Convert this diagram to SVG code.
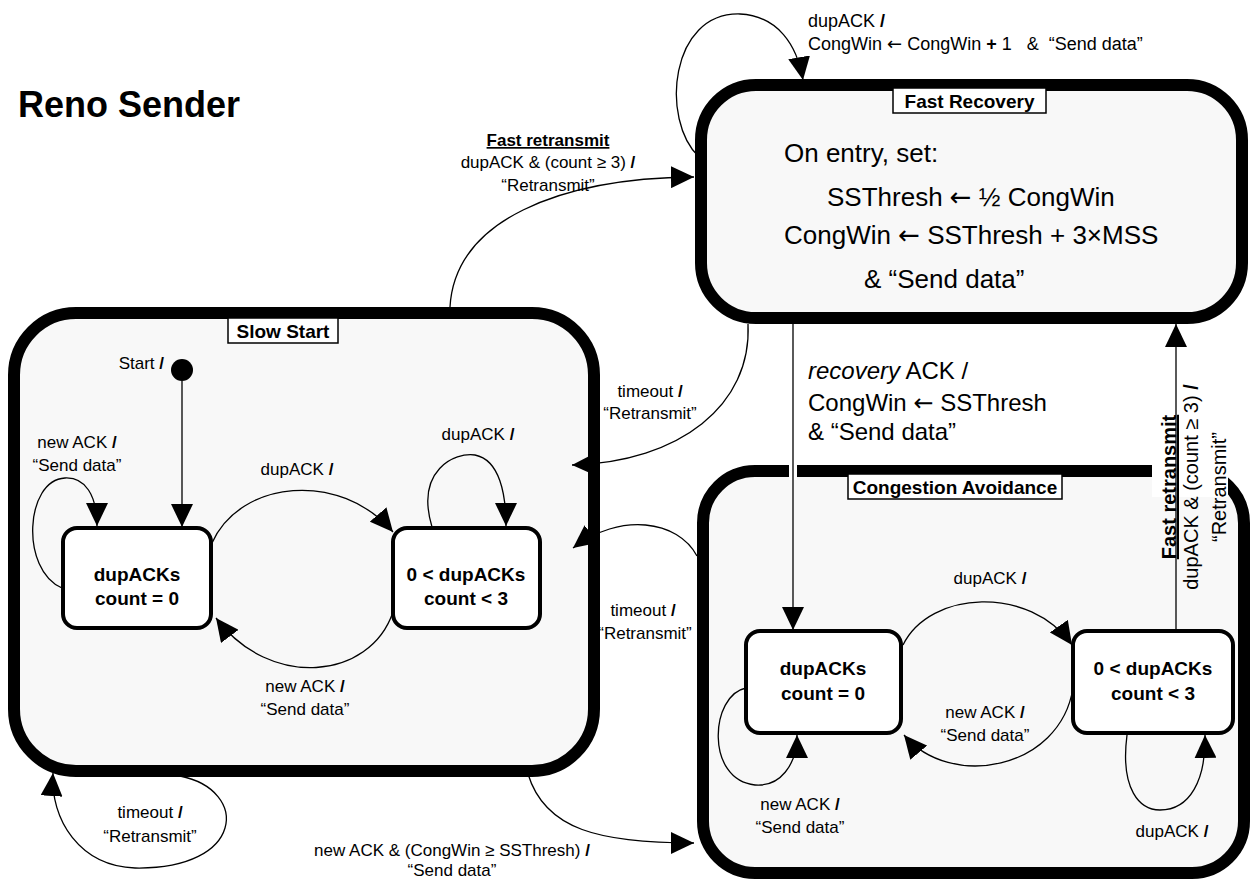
<svg xmlns="http://www.w3.org/2000/svg" width="1250" height="880" viewBox="0 0 1250 880">
<defs>
<marker id="ah" markerUnits="userSpaceOnUse" markerWidth="24" markerHeight="22" refX="23" refY="11" orient="auto">
<path d="M0,0 L23,11 L0,22 z" fill="#000"/>
</marker>
<style>
text{font-family:"Liberation Sans",Arial,sans-serif;fill:#000}
.t{font-size:17px}
.c{fill:#f8f8f8;stroke:#000;stroke-width:12}
.s{fill:#fff;stroke:#000;stroke-width:4}
.lb{fill:#fff;stroke:#000;stroke-width:1.5}
.h{font-size:19px;font-weight:bold}
.st{font-size:19px;font-weight:bold}
.b{font-weight:bold}
.ar{font-family:"DejaVu Sans",sans-serif}
.big{font-size:26px}
.rec{font-size:24px}
.conn path,.conn line{fill:none;stroke:#000;stroke-width:1.3;marker-end:url(#ah)}
</style>
</defs>
<rect width="1250" height="880" fill="#fff"/>
<text x="18" y="117" style="font-size:36px;font-weight:bold">Reno Sender</text>

<g id="fast-recovery">
<rect class="c" x="701" y="85" width="541" height="233" rx="55"/>
<rect class="lb" x="893" y="88" width="153" height="25"/>
<text class="h" x="969.5" y="108" text-anchor="middle">Fast Recovery</text>
<text class="big" x="784" y="162">On entry, set:</text>
<text class="big" x="827" y="206">SSThresh <tspan class="ar">←</tspan> ½ CongWin</text>
<text class="big" x="784" y="244">CongWin <tspan class="ar">←</tspan> SSThresh + 3×MSS</text>
<text class="big" x="864" y="288">&amp; “Send data”</text>
</g>

<g id="slow-start">
<rect class="c" x="14" y="313" width="580" height="458" rx="62"/>
<rect class="lb" x="228" y="318" width="110" height="25"/>
<text class="h" x="283" y="338" text-anchor="middle">Slow Start</text>
<circle cx="182" cy="370" r="11" fill="#000"/>
<text class="t" x="164" y="369" text-anchor="end">Start <tspan class="b">/</tspan></text>
</g>

<g id="ss-zero">
<rect class="s" x="63" y="528" width="148" height="100" rx="14"/>
<text class="st" x="137" y="581" text-anchor="middle">dupACKs</text>
<text class="st" x="137" y="605" text-anchor="middle">count = 0</text>
</g>
<g id="ss-dup">
<rect class="s" x="393" y="528" width="147" height="100" rx="14"/>
<text class="st" x="466" y="581" text-anchor="middle">0 &lt; dupACKs</text>
<text class="st" x="466" y="605" text-anchor="middle">count &lt; 3</text>
</g>

<g id="congestion-avoidance">
<rect class="c" x="703" y="471" width="541" height="402" rx="52"/>
<rect x="1152" y="455" width="76" height="42" fill="#fff"/>
<rect x="789" y="462" width="8" height="18" fill="#fff"/>
<rect class="lb" x="848" y="474" width="214" height="25"/>
<text class="h" x="955" y="494" text-anchor="middle">Congestion Avoidance</text>
</g>
<g id="ca-zero">
<rect class="s" x="746" y="631" width="155" height="102" rx="14"/>
<text class="st" x="823" y="675" text-anchor="middle">dupACKs</text>
<text class="st" x="823" y="700" text-anchor="middle">count = 0</text>
</g>
<g id="ca-dup">
<rect class="s" x="1073" y="631" width="160" height="102" rx="14"/>
<text class="st" x="1153" y="675" text-anchor="middle">0 &lt; dupACKs</text>
<text class="st" x="1153" y="700" text-anchor="middle">count &lt; 3</text>
</g>

<g class="conn" id="connectors">
<path d="M 699 157 C 660 120, 670 12, 740 14 C 778 16, 797 45, 803 80"/>
<path d="M 450 307 C 455 220, 560 178, 694 177"/>
<path d="M 748 324 C 752 405, 680 462, 572 465"/>
<path d="M 697 556 C 678 520, 620 512, 573 548"/>
<path d="M 180 776 C 250 790, 245 870, 135 868 C 80 866, 50 820, 53 773"/>
<path d="M 528 774 C 545 830, 600 843, 694 843"/>
<line x1="793" y1="324" x2="793" y2="630"/>
<line x1="1176" y1="631" x2="1176" y2="324"/>
<line x1="182" y1="381" x2="182" y2="527"/>
<path d="M 62 588 C 20 570, 25 480, 65 478 C 85 477, 97 495, 97 526"/>
<path d="M 212 543 C 240 480, 340 470, 393 532"/>
<path d="M 432 527 C 415 470, 455 452, 475 455 C 500 460, 506 495, 506 526"/>
<path d="M 393 612 C 370 680, 270 690, 216 618"/>
<path d="M 903 645 C 930 590, 1030 585, 1072 645"/>
<path d="M 1073 688 C 1060 770, 950 790, 904 735"/>
<path d="M 746 688 C 710 695, 705 780, 755 785 C 780 787, 797 765, 797 735"/>
<path d="M 1127 735 C 1120 790, 1140 810, 1160 810 C 1190 810, 1206 780, 1205 735"/>
</g>

<g id="labels">
<text class="t" x="808" y="27" style="font-size:18px">dupACK <tspan class="b">/</tspan></text>
<text class="t" x="808" y="50" style="font-size:18px" xml:space="preserve">CongWin <tspan class="ar">←</tspan> CongWin <tspan class="b">+</tspan> 1   &amp;  “Send data”</text>
<text class="t" x="548" y="146" text-anchor="middle" style="font-weight:bold;text-decoration:underline">Fast retransmit</text>
<text class="t" x="548" y="168" text-anchor="middle">dupACK &amp; (count ≥ 3) <tspan class="b">/</tspan></text>
<text class="t" x="548" y="191" text-anchor="middle">“Retransmit”</text>
<text class="t" x="650" y="397" text-anchor="middle">timeout <tspan class="b">/</tspan></text>
<text class="t" x="650" y="419" text-anchor="middle">“Retransmit”</text>
<text class="t" x="643" y="616" text-anchor="middle">timeout <tspan class="b">/</tspan></text>
<text class="t" x="645" y="639" text-anchor="middle">“Retransmit”</text>
<text class="t" x="150" y="818" text-anchor="middle">timeout <tspan class="b">/</tspan></text>
<text class="t" x="150" y="842" text-anchor="middle">“Retransmit”</text>
<text class="t" x="452" y="856" text-anchor="middle">new ACK &amp; (CongWin ≥ SSThresh) <tspan class="b">/</tspan></text>
<text class="t" x="452" y="876" text-anchor="middle">“Send data”</text>
<text class="t" x="77" y="448" text-anchor="middle">new ACK <tspan class="b">/</tspan></text>
<text class="t" x="77" y="471" text-anchor="middle">“Send data”</text>
<text class="t" x="297" y="475" text-anchor="middle">dupACK <tspan class="b">/</tspan></text>
<text class="t" x="478" y="440" text-anchor="middle">dupACK <tspan class="b">/</tspan></text>
<text class="t" x="305" y="692" text-anchor="middle">new ACK <tspan class="b">/</tspan></text>
<text class="t" x="305" y="715" text-anchor="middle">“Send data”</text>
<text class="rec" x="808" y="379"><tspan font-style="italic">recovery</tspan> ACK /</text>
<text class="rec" x="808" y="411">CongWin <tspan class="ar">←</tspan> SSThresh</text>
<text class="rec" x="808" y="440">&amp; “Send data”</text>
<text class="t" x="990" y="584" text-anchor="middle">dupACK <tspan class="b">/</tspan></text>
<text class="t" x="985" y="718" text-anchor="middle">new ACK <tspan class="b">/</tspan></text>
<text class="t" x="985" y="741" text-anchor="middle">“Send data”</text>
<text class="t" x="800" y="810" text-anchor="middle">new ACK <tspan class="b">/</tspan></text>
<text class="t" x="800" y="833" text-anchor="middle">“Send data”</text>
<text class="t" x="1172" y="837" text-anchor="middle">dupACK <tspan class="b">/</tspan></text>
<g transform="translate(1176,487) rotate(-90)">
<text x="0" y="0" text-anchor="middle" style="font-size:20px;font-weight:bold;text-decoration:underline">Fast retransmit</text>
<text x="0" y="22" text-anchor="middle" style="font-size:20px">dupACK &amp; (count ≥ 3) <tspan class="b">/</tspan></text>
<text x="0" y="50" text-anchor="middle" style="font-size:20px">“Retransmit”</text>
</g>
</g>
</svg>
